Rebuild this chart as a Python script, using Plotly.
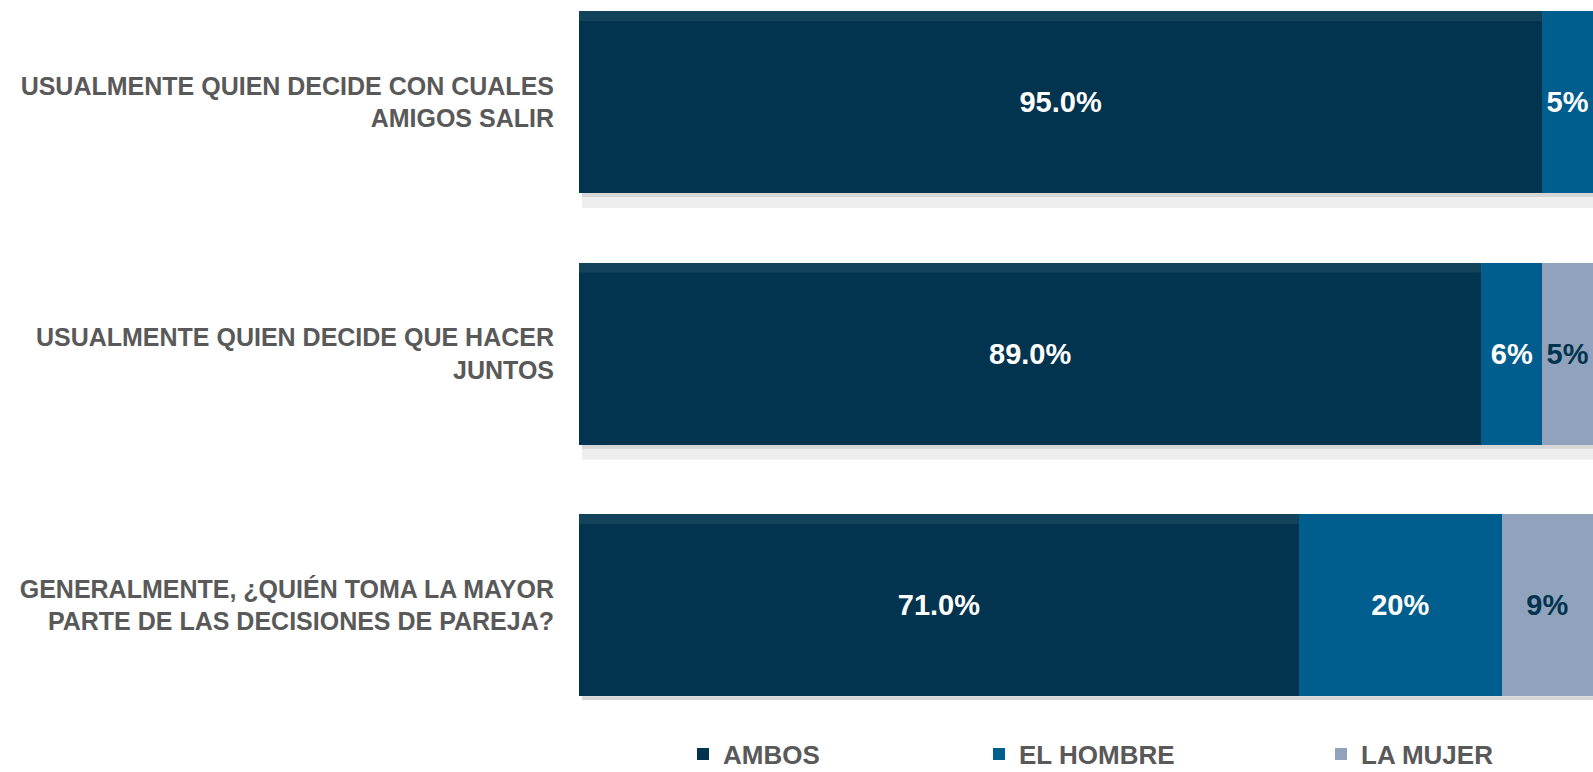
import plotly.graph_objects as go

# survey questions (top to bottom)
questions = [
    "USUALMENTE QUIEN DECIDE CON CUALES<br>AMIGOS SALIR",
    "USUALMENTE QUIEN DECIDE QUE HACER<br>JUNTOS",
    "GENERALMENTE, ¿QUIÉN TOMA LA MAYOR<br>PARTE DE LAS DECISIONES DE PAREJA?",
]
ambos = [95.0, 89.0, 71.0]
el_hombre = [5.0, 6.0, 20.0]
la_mujer = [0.0, 5.0, 9.0]

series_names = ["AMBOS", "EL HOMBRE", "LA MUJER"]
colours = ["#02344F", "#005E8F", "#91A3BC"]
label_colours = ["white", "white", "#02344F"]
legend_x = [683, 979, 1321]

W, H = 1593, 772
FONT = "Liberation Sans, Arial, sans-serif"

pos = list(range(len(questions)))
BARGAP = 0.276
half = (1 - BARGAP) / 2
px = 251.5  # pixels per category band

fig = go.Figure()
for i, (name, vals) in enumerate(zip(series_names, [ambos, el_hombre, la_mujer])):
    if i == 0:
        labels = [f"{v:.1f}%" for v in vals]
    else:
        labels = [f"{v:.0f}%" if v > 0 else "" for v in vals]
    leg = "legend" if i == 0 else f"legend{i + 1}"
    fig.add_trace(
        go.Bar(
            y=pos,
            x=vals,
            orientation="h",
            name=name,
            showlegend=True,
            marker=dict(color=colours[i], line=dict(width=0)),
            text=labels,
            textposition="inside",
            insidetextanchor="middle",
            textangle=0,
            constraintext="none",
            insidetextfont=dict(family=FONT, size=29, color=label_colours[i], weight="bold"),
            legend=leg,
            hovertemplate=name + ": %{x}%<extra></extra>",
        )
    )

# soft shadow under each bar and a lighter strip on top of the AMBOS segment
for p, a in zip(pos, ambos):
    bottom = p + half
    fig.add_shape(type="rect", xref="x", yref="y", x0=0.3, x1=100, y0=bottom, y1=bottom + 15 / px,
                  fillcolor="#EEEEEE", line_width=0, layer="below")
    fig.add_shape(type="rect", xref="x", yref="y", x0=0.3, x1=100, y0=bottom, y1=bottom + 4 / px,
                  fillcolor="#D6D6D6", line_width=0, layer="below")
    top = p - half
    fig.add_shape(type="rect", xref="x", yref="y", x0=0, x1=a, y0=top, y1=top + 10 / px,
                  fillcolor="rgba(255,255,255,0.07)", line_width=0, layer="above")

legend_common = dict(
    orientation="h",
    xref="container",
    yref="container",
    yanchor="middle",
    y=1 - 754 / H,
    font=dict(family=FONT, size=26, color="#595959", weight="bold"),
    bgcolor="rgba(0,0,0,0)",
    itemwidth=30,
    itemclick=False,
)

fig.update_layout(
    barmode="stack",
    bargap=BARGAP,
    width=W,
    height=H,
    showlegend=True,
    margin=dict(l=579, r=0, t=0, b=72, autoexpand=False),
    plot_bgcolor="white",
    paper_bgcolor="white",
    legend=dict(x=legend_x[0] / W, **legend_common),
    legend2=dict(x=legend_x[1] / W, **legend_common),
    legend3=dict(x=legend_x[2] / W, **legend_common),
)
fig.update_xaxes(range=[0, 100], visible=False, fixedrange=True)
fig.update_yaxes(
    tickvals=pos,
    ticktext=questions,
    range=[2.377, -0.4057],
    showgrid=False,
    zeroline=False,
    showline=False,
    ticks="",
    automargin=False,
    ticklabelstandoff=24,
    tickfont=dict(family=FONT, size=25, color="#595959", weight="bold"),
    fixedrange=True,
)

# drop the browser's default body margin so the figure fills the window
fig.write_html(
    "out.html",
    config={"displayModeBar": False},
    post_script="document.body.style.margin='0';document.body.style.overflow='hidden';",
)
